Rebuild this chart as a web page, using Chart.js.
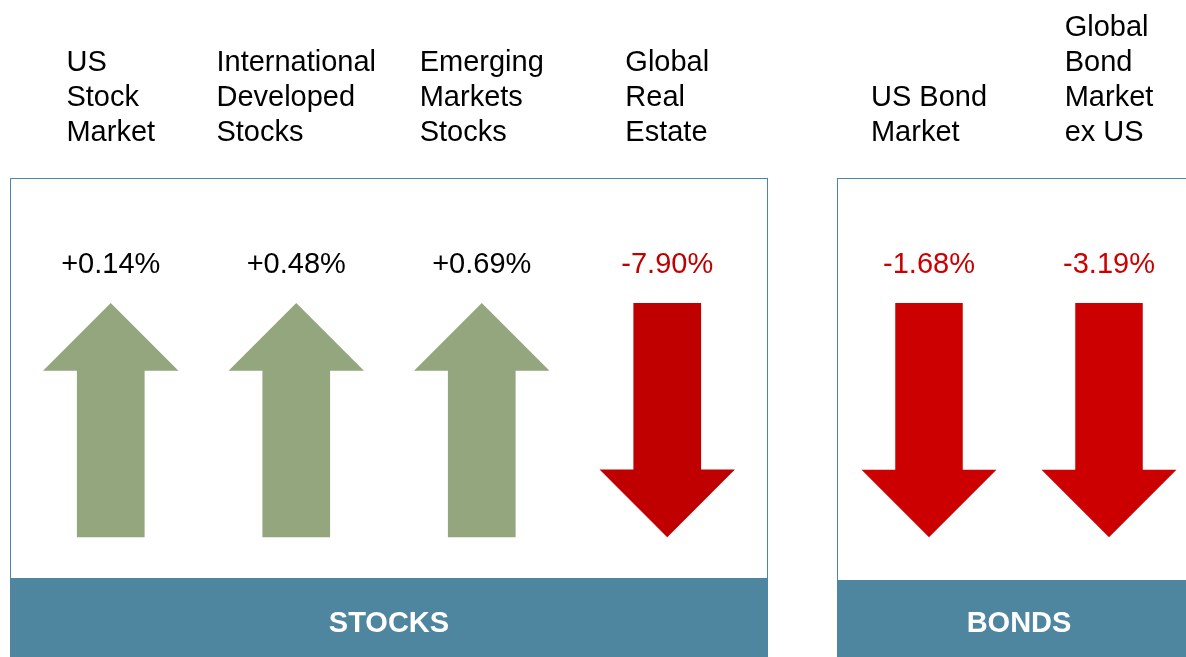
<!DOCTYPE html>
<html>
<head>
<meta charset="utf-8">
<script src="https://cdn.jsdelivr.net/npm/chart.js@4/dist/chart.umd.min.js"></script>
<style>
  html, body { margin: 0; padding: 0; background: #fff; overflow: hidden; }
  body { width: 1186px; height: 657px; position: relative; }
  .box { position: absolute; top: 0; height: 657px; }
  #stocksBox { left: 10px; width: 758px; }
  #bondsBox { left: 837px; width: 364px; }
</style>
</head>
<body>
<div class="box" id="stocksBox"><canvas id="stocksChart"></canvas></div>
<div class="box" id="bondsBox"><canvas id="bondsChart"></canvas></div>
<script>
// Data
const stockCategories = [['US', 'Stock', 'Market'], ['International', 'Developed', 'Stocks'], ['Emerging', 'Markets', 'Stocks'], ['Global', 'Real', 'Estate']];
const stockReturns = [0.14, 0.48, 0.69, -7.90];
const bondCategories = [['US Bond', 'Market'], ['Global', 'Bond', 'Market', 'ex US']];
const bondReturns = [-1.68, -3.19];

const FONT = '"Liberation Sans", Arial, sans-serif';
const UP_COLOR = '#94a67d';
const BORDER_COLOR = '#4a86a8';
const BAND_COLOR = '#4e86a0';
const BOX_TOP = 178;

function fmt(v) {
    return (v >= 0 ? '+' : '') + v.toFixed(2) + '%';
}

// Draws box, band, category labels, value labels and arrows
const arrowPlugin = {
    id: 'arrows',
    beforeDraw(chart, args, opts) {
        const ctx = chart.ctx;
        const w = chart.width, h = chart.height;
        ctx.save();
        ctx.fillStyle = BAND_COLOR;
        ctx.fillRect(0, opts.bandTop, w, h - opts.bandTop);
        ctx.strokeStyle = BORDER_COLOR;
        ctx.lineWidth = 1;
        ctx.strokeRect(0.5, BOX_TOP + 0.5, w - 1, h);
        ctx.restore();
    },
    afterDatasetsDraw(chart, args, opts) {
        const ctx = chart.ctx;
        const area = chart.chartArea;
        const meta = chart.getDatasetMeta(0);
        const values = chart.data.datasets[0].data;
        const labels = chart.data.labels;
        ctx.save();
        ctx.font = '29px ' + FONT;
        meta.data.forEach((bar, i) => {
            const x = bar.x;
            const hw = bar.width / 2;
            const sw = bar.width / 4;
            const head = bar.width / 2;
            const v = values[i];
            const top = area.top, bottom = area.bottom;

            // arrow
            ctx.beginPath();
            if (v >= 0) {
                ctx.fillStyle = UP_COLOR;
                ctx.moveTo(x, top);
                ctx.lineTo(x + hw, top + head);
                ctx.lineTo(x + sw, top + head);
                ctx.lineTo(x + sw, bottom);
                ctx.lineTo(x - sw, bottom);
                ctx.lineTo(x - sw, top + head);
                ctx.lineTo(x - hw, top + head);
            } else {
                ctx.fillStyle = opts.downColor;
                ctx.moveTo(x - sw, top);
                ctx.lineTo(x + sw, top);
                ctx.lineTo(x + sw, bottom - head);
                ctx.lineTo(x + hw, bottom - head);
                ctx.lineTo(x, bottom);
                ctx.lineTo(x - hw, bottom - head);
                ctx.lineTo(x - sw, bottom - head);
            }
            ctx.closePath();
            ctx.fill();

            // value label
            ctx.textAlign = 'center';
            ctx.textBaseline = 'middle';
            ctx.fillStyle = v >= 0 ? '#000' : opts.downColor;
            ctx.fillText(fmt(v), x, top - 38);

            // category label, left aligned block centred on the arrow
            const lines = labels[i];
            const maxW = Math.max(...lines.map(l => ctx.measureText(l).width));
            ctx.textAlign = 'left';
            ctx.fillStyle = '#000';
            lines.forEach((line, j) => {
                const y = BOX_TOP - 45 - (lines.length - 1 - j) * 35;
                ctx.fillText(line, x - maxW / 2, y);
            });
        });
        ctx.restore();
    }
};

function makeChart(id, categories, returns, title, downColor, bandTop, sidePad, barPct) {
    return new Chart(document.getElementById(id), {
        type: 'bar',
        data: {
            labels: categories,
            datasets: [{
                data: returns,
                backgroundColor: 'rgba(0,0,0,0)',
                barPercentage: barPct,
                categoryPercentage: 1
            }]
        },
        options: {
            responsive: true,
            maintainAspectRatio: false,
            animation: false,
            events: [],
            layout: { padding: { top: 303, bottom: 0, left: sidePad, right: sidePad } },
            scales: {
                x: { display: false },
                y: { display: false, min: -10, max: 10 }
            },
            plugins: {
                legend: { display: false },
                tooltip: { enabled: false },
                title: {
                    display: true,
                    position: 'bottom',
                    text: title,
                    color: '#fff',
                    font: { family: FONT, size: 29, weight: 'bold' },
                    padding: { top: 69, bottom: 16 }
                },
                arrows: { downColor: downColor, bandTop: bandTop }
            }
        },
        plugins: [arrowPlugin]
    });
}

makeChart('stocksChart', stockCategories, stockReturns, 'STOCKS', '#c00000', 578, 8, 0.73);
makeChart('bondsChart', bondCategories, bondReturns, 'BONDS', '#cc0000', 580, 2, 0.75);
</script>
</body>
</html>
